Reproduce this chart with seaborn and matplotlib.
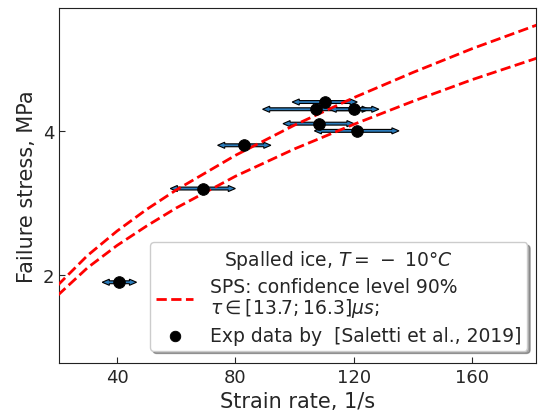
import numpy as np
import pandas as pd
import matplotlib
matplotlib.use('Agg')
import matplotlib.pyplot as plt
import seaborn as sns

# 曲线数据 (SPS 置信区间上下限)
curve_x = [20, 30, 40, 50, 60, 80, 100, 120, 140, 160, 182]
curve_upper = [1.86, 2.27, 2.61, 2.91, 3.18, 3.66, 4.08, 4.46, 4.81, 5.14, 5.47]
curve_lower = [1.72, 2.10, 2.41, 2.68, 2.93, 3.37, 3.75, 4.09, 4.41, 4.71, 5.01]

# 实验数据点 + 水平误差
exp_rate = [40.8, 69.0, 83.0, 110.2, 107.2, 120.1, 108.1, 121.0]
exp_stress = [1.90, 3.20, 3.80, 4.40, 4.30, 4.30, 4.10, 4.00]
exp_err = [5.8, 11.0, 9.0, 11.0, 18.0, 8.4, 12.0, 14.3]

sns.set_style("ticks", {"xtick.direction": "in", "ytick.direction": "in",
                        "axes.edgecolor": "#222222"})
plt.rcParams['font.family'] = ['DejaVu Sans']

fig = plt.figure(figsize=(5.38, 4.14), dpi=100)
ax = fig.add_axes([0.1097, 0.1208, 0.8860, 0.8567])

# 两条虚线
sns.lineplot(x=curve_x, y=curve_upper, ax=ax, color='red', linestyle='--', linewidth=2,
             zorder=3.5,
             label='SPS: confidence level 90%\n$\\tau \\in [13.7; 16.3] \\mu s$;')
sns.lineplot(x=curve_x, y=curve_lower, ax=ax, color='red', linestyle='--', linewidth=2,
             zorder=3.5)

# 双向箭头表示误差
for x, y, e in zip(exp_rate, exp_stress, exp_err):
    for d in (-e, e):
        ax.arrow(x, y, d, 0, width=0.04, head_width=0.085, head_length=2.4,
                 length_includes_head=True, facecolor='#2b7bba', edgecolor='black',
                 linewidth=0.8, zorder=3)

# 实验点
sns.scatterplot(x=exp_rate, y=exp_stress, ax=ax, color='black', s=70, edgecolor='black',
                zorder=4, label='Exp data by  [Saletti et al., 2019]')

ax.set_xlim(20.4, 181.5)
ax.set_ylim(0.78, 5.70)
ax.set_xticks([40, 80, 120, 160])
ax.set_yticks([2, 4])
ax.tick_params(labelsize=13, length=4)
ax.set_xlabel('Strain rate, 1/s', fontsize=15)
ax.set_ylabel('Failure stress, MPa', fontsize=15)
for s in ax.spines.values():
    s.set_visible(True)

leg = ax.legend(title='Spalled ice, $T=\\,-\\ 10°C$', loc='lower right', fontsize=13.5,
                title_fontsize=13.5, shadow=True, markerscale=0.9,
                bbox_to_anchor=(0.9824, 0.0347), borderaxespad=0,
                labelspacing=0.35, borderpad=0.3, handletextpad=0.9)
leg.get_texts()[0].set_linespacing(1.0)

plt.savefig('out.png', dpi=100)
